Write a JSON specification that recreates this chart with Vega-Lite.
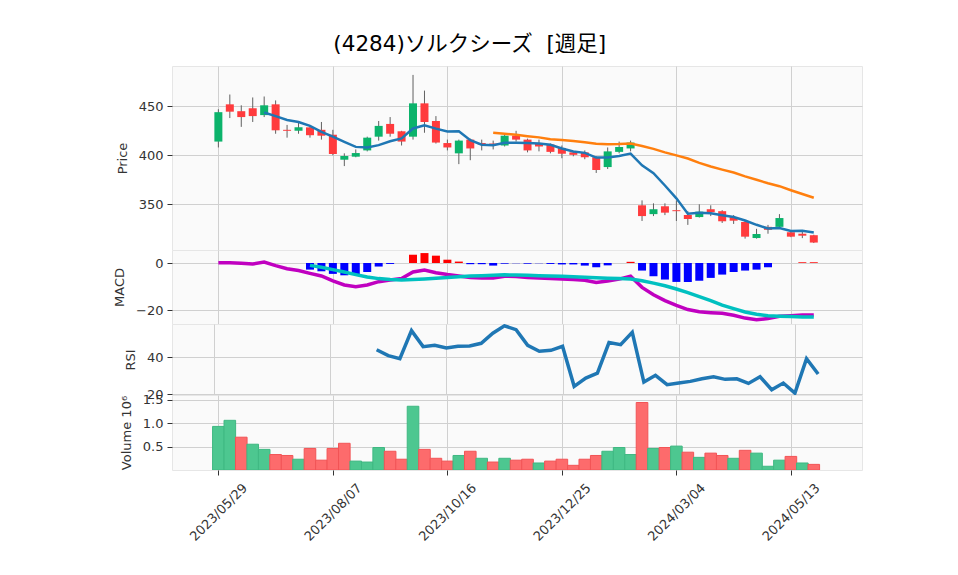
{
  "$schema": "https://vega.github.io/schema/vega-lite/v6.json",
  "background": "white",
  "autosize": {"type": "pad"},
  "padding": {"left": 113, "top": 34, "right": 20, "bottom": 5},
  "title": {"text": "(4284)ソルクシーズ \u00a0[週足]", "font": "'DejaVu Sans', 'Noto Sans CJK JP'", "fontSize": 21.5, "fontWeight": "normal", "color": "#000000", "anchor": "middle", "offset": 10, "dx": -18},
  "spacing": 0,
  "bounds": "flush",
  "config": {
    "view": {"fill": "#fafafa", "stroke": "#e6e6e6"},
    "axis": {"gridColor": "#d0d0d0", "gridWidth": 1, "labelFont": "DejaVu Sans", "labelFontSize": 13, "labelColor": "#333333", "titleFont": "DejaVu Sans", "titleFontSize": 13, "titleFontWeight": "normal", "titleColor": "#333333", "tickColor": "#333333", "tickSize": 5, "labelPadding": 4, "domain": false, "titlePadding": 9}
  },
  "data": {"values": [
    {"date":"2023-05-29","open":414,"high":447,"low":408,"close":444,"volume":930000,"chg":"up","ma5":null,"ma25":null,"macd":0.1,"signal":null,"hist":null,"rsi":null},
    {"date":"2023-06-05","open":452,"high":462,"low":438,"close":444.5,"volume":1060000,"chg":"up","ma5":null,"ma25":null,"macd":0.1,"signal":null,"hist":null,"rsi":null},
    {"date":"2023-06-12","open":445,"high":451,"low":429,"close":439,"volume":700000,"chg":"down","ma5":null,"ma25":null,"macd":-0.1,"signal":null,"hist":null,"rsi":null},
    {"date":"2023-06-19","open":448,"high":459,"low":434,"close":440,"volume":550000,"chg":"up","ma5":null,"ma25":null,"macd":-0.4,"signal":null,"hist":null,"rsi":null},
    {"date":"2023-06-26","open":441,"high":460,"low":439,"close":451,"volume":440000,"chg":"up","ma5":443.7,"ma25":null,"macd":0.4,"signal":null,"hist":null,"rsi":null},
    {"date":"2023-07-03","open":452,"high":456,"low":422,"close":425.5,"volume":330000,"chg":"down","ma5":440.0,"ma25":null,"macd":-1.1,"signal":null,"hist":null,"rsi":null},
    {"date":"2023-07-10","open":426,"high":431,"low":418,"close":425,"volume":310000,"chg":"down","ma5":436.1,"ma25":null,"macd":-2.4,"signal":null,"hist":null,"rsi":null},
    {"date":"2023-07-17","open":425,"high":433,"low":422,"close":428.5,"volume":230000,"chg":"up","ma5":434.0,"ma25":null,"macd":-3.2,"signal":null,"hist":null,"rsi":null},
    {"date":"2023-07-24","open":428.5,"high":429,"low":418,"close":420.5,"volume":460000,"chg":"down","ma5":430.0,"ma25":null,"macd":-4.4,"signal":-1.0,"hist":-2.8,"rsi":null},
    {"date":"2023-07-31","open":426,"high":434,"low":416,"close":420,"volume":210000,"chg":"down","ma5":423.9,"ma25":null,"macd":-5.5,"signal":-1.8,"hist":-3.5,"rsi":null},
    {"date":"2023-08-07","open":421,"high":426,"low":400,"close":401.3,"volume":460000,"chg":"down","ma5":419.1,"ma25":null,"macd":-7.6,"signal":-2.8,"hist":-4.6,"rsi":null},
    {"date":"2023-08-14","open":395.5,"high":402,"low":389,"close":399.3,"volume":570000,"chg":"down","ma5":413.8,"ma25":null,"macd":-9.3,"signal":-3.8,"hist":-5.2,"rsi":null},
    {"date":"2023-08-21","open":398.6,"high":406,"low":398,"close":402.3,"volume":190000,"chg":"up","ma5":408.6,"ma25":null,"macd":-10.0,"signal":-4.9,"hist":-4.9,"rsi":null},
    {"date":"2023-08-28","open":405,"high":419,"low":404,"close":418,"volume":170000,"chg":"up","ma5":408.0,"ma25":null,"macd":-9.3,"signal":-5.9,"hist":-3.8,"rsi":null},
    {"date":"2023-09-04","open":419,"high":435,"low":415,"close":430,"volume":480000,"chg":"up","ma5":410.4,"ma25":null,"macd":-7.9,"signal":-6.6,"hist":-1.5,"rsi":44.1},
    {"date":"2023-09-11","open":432,"high":439,"low":419,"close":422,"volume":400000,"chg":"down","ma5":414.3,"ma25":null,"macd":-7.2,"signal":-7.0,"hist":-0.4,"rsi":40.9},
    {"date":"2023-09-18","open":424.5,"high":425,"low":410,"close":414,"volume":230000,"chg":"down","ma5":417.3,"ma25":null,"macd":-6.6,"signal":-7.2,"hist":0,"rsi":39.2},
    {"date":"2023-09-25","open":419,"high":482,"low":416,"close":453,"volume":1360000,"chg":"up","ma5":427.4,"ma25":null,"macd":-3.8,"signal":-7.0,"hist":3.5,"rsi":54.5},
    {"date":"2023-10-02","open":453,"high":466,"low":423,"close":434,"volume":440000,"chg":"down","ma5":430.6,"ma25":null,"macd":-3.0,"signal":-6.8,"hist":4.2,"rsi":45.8},
    {"date":"2023-10-09","open":435,"high":440,"low":412,"close":413,"volume":250000,"chg":"down","ma5":427.2,"ma25":null,"macd":-4.1,"signal":-6.5,"hist":3.1,"rsi":46.5},
    {"date":"2023-10-16","open":412.5,"high":416,"low":405,"close":408,"volume":190000,"chg":"down","ma5":424.4,"ma25":null,"macd":-4.9,"signal":-6.1,"hist":1.4,"rsi":45.1},
    {"date":"2023-10-23","open":402,"high":416,"low":391,"close":415,"volume":310000,"chg":"up","ma5":424.6,"ma25":null,"macd":-5.5,"signal":-5.8,"hist":0.6,"rsi":46.0},
    {"date":"2023-10-30","open":416,"high":417,"low":395,"close":407,"volume":400000,"chg":"down","ma5":415.4,"ma25":null,"macd":-6.1,"signal":-5.5,"hist":-0.5,"rsi":46.2},
    {"date":"2023-11-06","open":412.5,"high":416,"low":405,"close":411,"volume":250000,"chg":"up","ma5":410.8,"ma25":null,"macd":-6.3,"signal":-5.4,"hist":-0.5,"rsi":47.6},
    {"date":"2023-11-13","open":412,"high":415,"low":406,"close":410.5,"volume":170000,"chg":"down","ma5":410.3,"ma25":423.0,"macd":-6.3,"signal":-5.2,"hist":-1.1,"rsi":53.1},
    {"date":"2023-11-20","open":410,"high":422,"low":409,"close":420,"volume":250000,"chg":"up","ma5":412.7,"ma25":422.0,"macd":-5.6,"signal":-5.0,"hist":-0.3,"rsi":57.1},
    {"date":"2023-11-27","open":420,"high":425,"low":414,"close":416,"volume":210000,"chg":"down","ma5":412.9,"ma25":420.9,"macd":-5.7,"signal":-5.1,"hist":-0.1,"rsi":55.0},
    {"date":"2023-12-04","open":416,"high":417,"low":403,"close":405,"volume":230000,"chg":"down","ma5":412.5,"ma25":419.5,"macd":-6.1,"signal":-5.2,"hist":-0.3,"rsi":46.5},
    {"date":"2023-12-11","open":412.5,"high":416,"low":404,"close":409,"volume":150000,"chg":"up","ma5":412.1,"ma25":418.3,"macd":-6.3,"signal":-5.4,"hist":-0.1,"rsi":43.3},
    {"date":"2023-12-18","open":411,"high":412,"low":402,"close":403.5,"volume":190000,"chg":"down","ma5":410.7,"ma25":416.4,"macd":-6.6,"signal":-5.5,"hist":-0.4,"rsi":43.8},
    {"date":"2023-12-25","open":407.5,"high":410,"low":397,"close":401.6,"volume":230000,"chg":"down","ma5":407.0,"ma25":415.5,"macd":-6.8,"signal":-5.6,"hist":-0.6,"rsi":46.0},
    {"date":"2024-01-01","open":403,"high":404,"low":399,"close":400.5,"volume":100000,"chg":"down","ma5":403.9,"ma25":414.5,"macd":-7.0,"signal":-5.8,"hist":-0.6,"rsi":24.2},
    {"date":"2024-01-08","open":403,"high":405,"low":396,"close":398,"volume":230000,"chg":"down","ma5":402.5,"ma25":413.2,"macd":-7.3,"signal":-6.0,"hist":-1.1,"rsi":28.7},
    {"date":"2024-01-15","open":398,"high":399,"low":382,"close":385,"volume":310000,"chg":"down","ma5":397.7,"ma25":411.8,"macd":-8.2,"signal":-6.2,"hist":-1.8,"rsi":31.4},
    {"date":"2024-01-22","open":388,"high":408,"low":386,"close":404,"volume":400000,"chg":"up","ma5":397.8,"ma25":411.2,"macd":-7.6,"signal":-6.4,"hist":-1.0,"rsi":48.0},
    {"date":"2024-01-29","open":403.5,"high":414,"low":402,"close":408.5,"volume":480000,"chg":"up","ma5":399.2,"ma25":411.5,"macd":-6.8,"signal":-6.6,"hist":0,"rsi":46.9},
    {"date":"2024-02-05","open":407,"high":415,"low":404,"close":413,"volume":330000,"chg":"up","ma5":401.7,"ma25":412.1,"macd":-5.6,"signal":-6.8,"hist":0.5,"rsi":53.6},
    {"date":"2024-02-12","open":349,"high":354,"low":333,"close":338,"volume":1440000,"chg":"down","ma5":389.7,"ma25":409.5,"macd":-10.3,"signal":-7.5,"hist":-3.2,"rsi":26.5},
    {"date":"2024-02-19","open":340,"high":351,"low":338,"close":345,"volume":460000,"chg":"up","ma5":381.7,"ma25":406.6,"macd":-13.4,"signal":-8.5,"hist":-5.6,"rsi":30.2},
    {"date":"2024-02-26","open":348,"high":351,"low":339,"close":341.5,"volume":480000,"chg":"down","ma5":369.2,"ma25":403.0,"macd":-15.9,"signal":-9.6,"hist":-7.0,"rsi":25.1},
    {"date":"2024-03-04","open":344,"high":354,"low":333,"close":343,"volume":510000,"chg":"up","ma5":356.1,"ma25":399.9,"macd":-17.9,"signal":-11.0,"hist":-8.0,"rsi":26.0},
    {"date":"2024-03-11","open":339,"high":343,"low":329,"close":335,"volume":380000,"chg":"down","ma5":340.5,"ma25":396.7,"macd":-19.7,"signal":-12.5,"hist":-8.0,"rsi":26.9},
    {"date":"2024-03-18","open":337,"high":350,"low":336.5,"close":342.5,"volume":270000,"chg":"up","ma5":341.4,"ma25":392.3,"macd":-20.6,"signal":-14.2,"hist":-7.5,"rsi":28.3},
    {"date":"2024-03-25","open":345,"high":349,"low":338,"close":342,"volume":360000,"chg":"down","ma5":340.8,"ma25":388.6,"macd":-21.0,"signal":-15.9,"hist":-6.3,"rsi":29.4},
    {"date":"2024-04-01","open":343,"high":344,"low":331,"close":332.7,"volume":310000,"chg":"down","ma5":338.9,"ma25":385.4,"macd":-21.3,"signal":-17.8,"hist":-4.9,"rsi":28.0},
    {"date":"2024-04-08","open":337,"high":339,"low":330,"close":333.3,"volume":250000,"chg":"up","ma5":337.1,"ma25":382.4,"macd":-22.1,"signal":-19.3,"hist":-3.8,"rsi":28.3},
    {"date":"2024-04-15","open":332,"high":333,"low":315,"close":317,"volume":420000,"chg":"down","ma5":333.5,"ma25":378.5,"macd":-23.3,"signal":-20.7,"hist":-3.2,"rsi":25.8},
    {"date":"2024-04-22","open":315.6,"high":325,"low":315,"close":319.7,"volume":360000,"chg":"up","ma5":329.1,"ma25":375.0,"macd":-24.0,"signal":-21.7,"hist":-2.8,"rsi":29.4},
    {"date":"2024-04-29","open":327,"high":329,"low":320,"close":324,"volume":80000,"chg":"up","ma5":325.3,"ma25":371.5,"macd":-23.5,"signal":-22.3,"hist":-1.8,"rsi":22.4},
    {"date":"2024-05-06","open":327,"high":340,"low":326,"close":336,"volume":210000,"chg":"up","ma5":325.9,"ma25":368.5,"macd":-22.5,"signal":-22.5,"hist":0,"rsi":26.0},
    {"date":"2024-05-13","open":321.5,"high":322,"low":316.5,"close":317,"volume":290000,"chg":"down","ma5":322.7,"ma25":364.4,"macd":-22.3,"signal":-22.6,"hist":0,"rsi":20.5},
    {"date":"2024-05-20","open":320,"high":322,"low":315.5,"close":318,"volume":150000,"chg":"up","ma5":323.0,"ma25":360.5,"macd":-22.0,"signal":-22.8,"hist":0.3,"rsi":39.2},
    {"date":"2024-05-27","open":318.5,"high":319,"low":310.5,"close":311,"volume":120000,"chg":"down","ma5":321.2,"ma25":356.7,"macd":-22.0,"signal":-22.8,"hist":0.3,"rsi":30.9}
  ]},
  "vconcat": [
    {
      "width": 690, "height": 184,
      "encoding": {
        "x": {"field": "date", "type": "temporal",
          "scale": {"type": "utc", "domain": [{"year": 2023, "month": 5, "date": 3, "hours": 17, "utc": true}, {"year": 2024, "month": 6, "date": 22, "hours": 10, "utc": true}]},
          "axis": {"values": [{"year": 2023, "month": 5, "date": 29, "utc": true}, {"year": 2023, "month": 8, "date": 7, "utc": true}, {"year": 2023, "month": 10, "date": 16, "utc": true}, {"year": 2023, "month": 12, "date": 25, "utc": true}, {"year": 2024, "month": 3, "date": 4, "utc": true}, {"year": 2024, "month": 5, "date": 13, "utc": true}], "labels": false, "ticks": false, "title": null, "grid": true}}
      },
      "layer": [
        {"mark": {"type": "rule", "color": "#606060", "strokeWidth": 1, "clip": true},
         "encoding": {"y": {"field": "low", "type": "quantitative", "scale": {"domain": [303.4, 491.1], "nice": false, "zero": false}, "axis": {"title": "Price", "values": [350, 400, 450], "grid": true}}, "y2": {"field": "high"}}},
        {"mark": {"type": "bar", "width": 8, "clip": true},
         "encoding": {"y": {"field": "open", "type": "quantitative"}, "y2": {"field": "close"},
           "color": {"condition": {"test": "datum.close >= datum.open", "value": "#0bb36b"}, "value": "#ff3b3d"}}},
        {"transform": [{"filter": "isValid(datum.ma5)"}],
         "mark": {"type": "line", "color": "#1f77b4", "strokeWidth": 2.5, "clip": true},
         "encoding": {"y": {"field": "ma5", "type": "quantitative"}}},
        {"transform": [{"filter": "isValid(datum.ma25)"}],
         "mark": {"type": "line", "color": "#ff7f0e", "strokeWidth": 2.5, "clip": true},
         "encoding": {"y": {"field": "ma25", "type": "quantitative"}}}
      ]
    },
    {
      "width": 690, "height": 74,
      "encoding": {
        "x": {"field": "date", "type": "temporal",
          "scale": {"type": "utc", "domain": [{"year": 2023, "month": 5, "date": 3, "hours": 17, "utc": true}, {"year": 2024, "month": 6, "date": 22, "hours": 10, "utc": true}]},
          "axis": {"values": [{"year": 2023, "month": 5, "date": 29, "utc": true}, {"year": 2023, "month": 8, "date": 7, "utc": true}, {"year": 2023, "month": 10, "date": 16, "utc": true}, {"year": 2023, "month": 12, "date": 25, "utc": true}, {"year": 2024, "month": 3, "date": 4, "utc": true}, {"year": 2024, "month": 5, "date": 13, "utc": true}], "labels": false, "ticks": false, "title": null, "grid": true}}
      },
      "layer": [
        {"transform": [{"filter": "isValid(datum.hist)"}],
         "mark": {"type": "bar", "width": 8, "clip": true},
         "encoding": {"y": {"field": "hist", "type": "quantitative", "scale": {"domain": [-25.8, 5.5], "nice": false, "zero": false}, "axis": {"title": "MACD", "values": [-20, 0], "grid": true}},
           "y2": {"datum": 0},
           "color": {"condition": {"test": "datum.hist >= 0", "value": "#ff0000"}, "value": "#0000ff"}}},
        {"mark": {"type": "line", "color": "#c000c0", "strokeWidth": 3.5, "clip": true},
         "encoding": {"y": {"field": "macd", "type": "quantitative"}}},
        {"transform": [{"filter": "isValid(datum.signal)"}],
         "mark": {"type": "line", "color": "#00c0c0", "strokeWidth": 3.5, "clip": true},
         "encoding": {"y": {"field": "signal", "type": "quantitative"}}}
      ]
    },
    {
      "width": 690, "height": 71,
      "transform": [{"filter": "isValid(datum.rsi)"}],
      "mark": {"type": "line", "color": "#1f77b4", "strokeWidth": 3.5, "clip": true},
      "encoding": {
        "x": {"field": "date", "type": "temporal",
          "scale": {"type": "utc", "domain": [{"year": 2023, "month": 5, "date": 3, "hours": 17, "utc": true}, {"year": 2024, "month": 6, "date": 22, "hours": 10, "utc": true}]},
          "axis": {"values": [{"year": 2023, "month": 5, "date": 29, "utc": true}, {"year": 2023, "month": 8, "date": 7, "utc": true}, {"year": 2023, "month": 10, "date": 16, "utc": true}, {"year": 2023, "month": 12, "date": 25, "utc": true}, {"year": 2024, "month": 3, "date": 4, "utc": true}, {"year": 2024, "month": 5, "date": 13, "utc": true}], "labels": false, "ticks": false, "title": null, "grid": true}},
        "y": {"field": "rsi", "type": "quantitative", "scale": {"domain": [19.5, 58.1], "nice": false, "zero": false}, "axis": {"title": "RSI", "values": [20, 40], "grid": true}}
      }
    },
    {
      "width": 690, "height": 75,
      "mark": {"type": "bar", "width": 11.6, "strokeWidth": 1, "clip": true},
      "encoding": {
        "x": {"field": "date", "type": "temporal",
          "scale": {"type": "utc", "domain": [{"year": 2023, "month": 5, "date": 3, "hours": 17, "utc": true}, {"year": 2024, "month": 6, "date": 22, "hours": 10, "utc": true}]},
          "axis": {"values": [{"year": 2023, "month": 5, "date": 29, "utc": true}, {"year": 2023, "month": 8, "date": 7, "utc": true}, {"year": 2023, "month": 10, "date": 16, "utc": true}, {"year": 2023, "month": 12, "date": 25, "utc": true}, {"year": 2024, "month": 3, "date": 4, "utc": true}, {"year": 2024, "month": 5, "date": 13, "utc": true}], "labelExpr": "utcFormat(datum.value, '%Y/%m/%d')", "labelAngle": -45, "labelAlign": "center", "labelBaseline": "middle", "labelPadding": 37, "title": null, "grid": true, "ticks": true}},
        "y": {"field": "volume", "type": "quantitative", "scale": {"domain": [0, 1600000], "nice": false}, "axis": {"title": "Volume  10⁶", "values": [500000, 1000000, 1500000], "labelExpr": "format(datum.value / 1000000, '.1f')", "grid": true}},
        "fill": {"field": "chg", "type": "nominal", "scale": {"domain": ["up", "down"], "range": ["#4dc790", "#fd6b6c"]}, "legend": null},
        "stroke": {"field": "chg", "type": "nominal", "scale": {"domain": ["up", "down"], "range": ["#3fb882", "#f25456"]}, "legend": null}
      }
    }
  ]
}
